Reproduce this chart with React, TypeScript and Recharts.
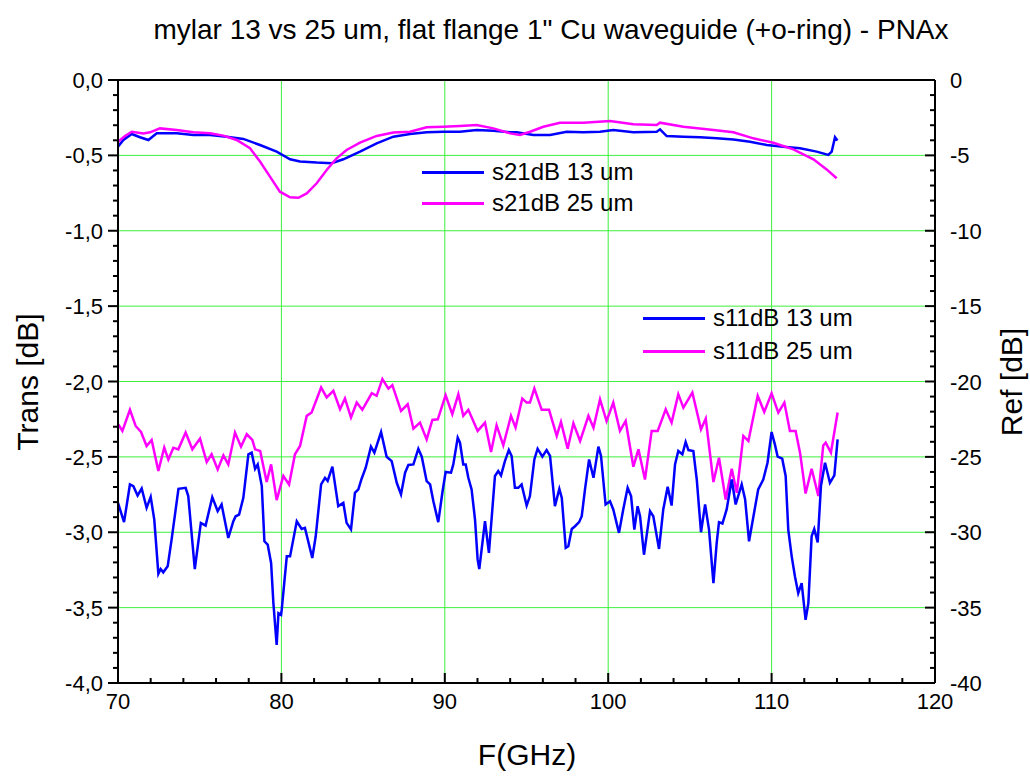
import React from "react";
import { LineChart, Line, XAxis, YAxis, ReferenceLine } from "recharts";

// s21 (transmission, left axis) and s11 (reflection, right axis): [GHz, dB]
const s21_13: [number, number][] = [
  [70.0, -0.442], [70.33, -0.398], [70.84, -0.358], [71.35, -0.38], [71.86, -0.398], [72.37, -0.354],
  [73.59, -0.354], [74.61, -0.365], [75.63, -0.365], [76.65, -0.376], [77.67, -0.391], [78.69, -0.431],
  [79.71, -0.475], [80.53, -0.526], [81.14, -0.541], [82.16, -0.548], [83.08, -0.552], [83.79, -0.526],
  [84.81, -0.475], [85.83, -0.42], [86.85, -0.376], [87.87, -0.358], [88.89, -0.347], [89.91, -0.343],
  [90.93, -0.343], [91.95, -0.332], [92.97, -0.336], [93.99, -0.347], [94.4, -0.347], [95.42, -0.365],
  [96.44, -0.365], [97.46, -0.343], [98.48, -0.347], [99.5, -0.343], [100.31, -0.332], [101.54, -0.347],
  [102.97, -0.343], [103.17, -0.327], [103.58, -0.372], [104.6, -0.376], [105.62, -0.38], [106.64, -0.387],
  [107.66, -0.394], [108.68, -0.409], [109.7, -0.431], [110.72, -0.442], [111.74, -0.453], [112.76, -0.475],
  [113.47, -0.497], [113.68, -0.475], [113.88, -0.38], [114.03, -0.402],
];

const s21_25: [number, number][] = [
  [70.0, -0.409], [70.43, -0.371], [70.84, -0.343], [71.55, -0.354], [71.96, -0.347], [72.57, -0.321],
  [73.59, -0.332], [74.61, -0.347], [75.63, -0.354], [76.45, -0.369], [77.26, -0.398], [78.08, -0.453],
  [78.69, -0.541], [79.3, -0.641], [79.91, -0.741], [80.53, -0.778], [81.04, -0.781], [81.55, -0.752],
  [82.16, -0.685], [82.77, -0.597], [83.38, -0.52], [83.99, -0.464], [84.81, -0.416], [85.83, -0.371],
  [86.85, -0.349], [87.87, -0.343], [88.89, -0.314], [89.91, -0.31], [90.93, -0.305], [91.95, -0.299],
  [92.97, -0.321], [93.99, -0.354], [94.6, -0.365], [95.22, -0.343], [96.03, -0.31], [97.05, -0.283],
  [98.48, -0.283], [100.11, -0.272], [101.54, -0.294], [102.97, -0.299], [103.17, -0.283], [104.6, -0.31],
  [106.03, -0.327], [107.66, -0.347], [108.88, -0.387], [110.11, -0.416], [111.33, -0.46], [112.56, -0.526],
  [113.37, -0.593], [113.98, -0.652],
];

const s11_13: [number, number][] = [
  [70.0, -28.05], [70.37, -29.33], [70.73, -26.83], [70.94, -26.94], [71.2, -27.56], [71.45, -27.1],
  [71.75, -28.38], [72.0, -27.65], [72.22, -29.16], [72.47, -32.75], [72.61, -32.44], [72.77, -32.66],
  [73.04, -32.26], [73.28, -30.49], [73.7, -27.12], [74.14, -27.05], [74.3, -27.6], [74.7, -32.44],
  [75.07, -29.38], [75.36, -29.56], [75.77, -27.67], [76.1, -28.6], [76.34, -28.16], [76.75, -30.38],
  [77.06, -29.27], [77.2, -28.94], [77.41, -28.83], [77.67, -27.72], [77.98, -24.83], [78.18, -24.72],
  [78.39, -25.79], [78.55, -25.5], [78.8, -26.94], [78.96, -30.6], [79.16, -30.82], [79.37, -32.04],
  [79.51, -34.7], [79.71, -37.47], [79.82, -35.37], [79.98, -35.48], [80.02, -35.14], [80.33, -31.6],
  [80.53, -31.6], [80.94, -29.27], [81.24, -29.78], [81.44, -29.71], [81.89, -31.71], [82.1, -30.27],
  [82.43, -26.83], [82.67, -26.39], [82.83, -26.6], [83.12, -25.65], [83.48, -28.27], [83.79, -28.05],
  [83.99, -29.38], [84.26, -29.82], [84.5, -27.38], [84.71, -27.16], [84.91, -26.45], [85.16, -25.72],
  [85.48, -24.32], [85.69, -24.72], [86.1, -23.35], [86.44, -24.99], [86.75, -25.28], [87.06, -26.72],
  [87.32, -27.49], [87.57, -26.05], [87.77, -25.54], [88.08, -25.5], [88.38, -24.46], [88.59, -24.99],
  [88.89, -26.61], [89.1, -26.83], [89.3, -27.94], [89.6, -29.33], [89.85, -27.38], [90.05, -26.0],
  [90.38, -26.05], [90.52, -25.5], [90.79, -23.73], [90.93, -24.06], [91.13, -25.5], [91.28, -25.5],
  [91.44, -26.39], [91.64, -27.16], [91.85, -29.16], [92.01, -31.82], [92.11, -32.44], [92.46, -29.27],
  [92.7, -31.37], [93.07, -26.27], [93.27, -25.94], [93.44, -26.23], [93.68, -25.28], [93.92, -24.55],
  [94.09, -24.94], [94.29, -27.05], [94.5, -27.05], [94.7, -26.83], [95.01, -28.23], [95.21, -27.6],
  [95.48, -25.17], [95.68, -24.46], [95.97, -24.99], [96.23, -24.55], [96.44, -24.94], [96.74, -28.27],
  [97.01, -27.12], [97.16, -27.72], [97.4, -31.04], [97.56, -30.93], [97.77, -29.78], [97.97, -29.6],
  [98.22, -29.33], [98.38, -28.94], [98.58, -27.16], [98.83, -25.17], [99.1, -26.39], [99.4, -24.32],
  [99.56, -24.94], [99.84, -28.16], [100.11, -27.94], [100.31, -28.49], [100.66, -30.04], [100.92, -28.49],
  [101.19, -27.05], [101.4, -27.6], [101.6, -29.82], [101.8, -28.27], [101.95, -28.94], [102.19, -31.49],
  [102.56, -28.6], [102.76, -28.94], [103.11, -31.11], [103.37, -28.49], [103.64, -26.98], [103.88, -28.23],
  [104.09, -25.5], [104.29, -24.61], [104.54, -24.83], [104.74, -24.01], [104.91, -24.55], [105.21, -24.61],
  [105.42, -26.5], [105.68, -30.0], [105.93, -28.16], [106.17, -29.82], [106.44, -33.37], [106.64, -30.71],
  [106.78, -29.33], [106.99, -29.42], [107.25, -28.49], [107.56, -26.5], [107.8, -28.16], [108.17, -26.83],
  [108.38, -27.83], [108.62, -30.6], [108.89, -28.94], [109.18, -27.16], [109.49, -26.5], [109.75, -25.39],
  [110.0, -23.35], [110.2, -24.17], [110.37, -24.99], [110.65, -25.12], [110.86, -26.27], [111.02, -29.82],
  [111.23, -31.6], [111.43, -32.93], [111.63, -34.04], [111.84, -33.37], [112.08, -35.81], [112.25, -34.7],
  [112.45, -30.27], [112.61, -29.78], [112.82, -30.67], [113.02, -26.94], [113.27, -25.39], [113.57, -26.72],
  [113.84, -26.23], [114.04, -23.84],
];

const s11_25: [number, number][] = [
  [70.02, -22.84], [70.27, -23.28], [70.73, -21.88], [71.08, -22.95], [71.41, -23.35], [71.75, -24.28],
  [72.06, -23.88], [72.47, -25.94], [72.83, -24.39], [73.08, -25.17], [73.39, -24.39], [73.69, -24.5],
  [74.14, -23.39], [74.55, -24.5], [75.02, -23.79], [75.43, -25.34], [75.73, -24.83], [76.1, -25.83],
  [76.45, -24.9], [76.75, -25.5], [77.16, -23.39], [77.53, -24.32], [77.88, -23.5], [78.22, -23.88],
  [78.39, -24.5], [78.7, -24.61], [79.1, -26.67], [79.37, -25.5], [79.71, -27.87], [80.12, -26.27],
  [80.47, -26.83], [80.83, -24.83], [81.14, -24.28], [81.55, -22.28], [81.85, -22.06], [82.43, -20.4],
  [82.77, -21.06], [83.18, -20.62], [83.59, -21.84], [83.89, -21.13], [84.26, -22.39], [84.61, -21.4],
  [84.95, -21.88], [85.53, -20.78], [85.83, -20.95], [86.18, -19.84], [86.55, -20.47], [86.79, -20.24],
  [87.32, -21.95], [87.73, -21.51], [88.08, -23.13], [88.48, -22.73], [88.89, -23.84], [89.24, -22.55],
  [89.57, -22.51], [90.05, -20.91], [90.46, -22.17], [90.83, -20.84], [91.13, -22.28], [91.44, -21.88],
  [92.01, -23.28], [92.46, -22.73], [92.83, -24.68], [93.17, -22.9], [93.58, -24.24], [94.05, -22.28],
  [94.33, -23.06], [94.74, -21.13], [95.01, -21.4], [95.21, -21.4], [95.48, -20.47], [95.93, -21.88],
  [96.38, -21.88], [96.85, -23.61], [97.11, -22.68], [97.52, -24.46], [97.87, -22.77], [98.28, -23.95],
  [98.79, -22.28], [99.1, -23.06], [99.5, -21.18], [99.9, -22.62], [100.31, -21.4], [100.72, -23.28],
  [101.07, -22.62], [101.54, -25.65], [101.85, -24.5], [102.25, -26.5], [102.66, -23.28], [103.03, -23.28],
  [103.52, -21.84], [103.88, -22.73], [104.29, -20.84], [104.6, -21.73], [105.15, -20.73], [105.68, -23.17],
  [105.97, -22.46], [106.44, -26.67], [106.78, -25.06], [107.19, -27.83], [107.56, -25.79], [107.87, -27.38],
  [108.27, -23.61], [108.58, -23.95], [109.15, -20.95], [109.55, -22.02], [110.0, -20.78], [110.41, -22.06],
  [110.78, -21.4], [111.12, -23.28], [111.47, -23.28], [111.74, -24.72], [112.08, -27.43], [112.45, -25.79],
  [112.86, -27.6], [113.16, -24.24], [113.31, -24.06], [113.63, -24.72], [114.04, -22.06],
];

// axis ticks
const xMajor = [70, 80, 90, 100, 110, 120];
const xGrid = [80, 90, 100, 110];
const leftMajor = [-4, -3.5, -3, -2.5, -2, -1.5, -1, -0.5, 0];
const leftGrid = [-3.5, -3, -2.5, -2, -1.5, -1, -0.5];
const rightMajor = [-40, -35, -30, -25, -20, -15, -10, -5, 0];

const BLUE = "#0000ff";
const MAGENTA = "#ff00ff";
const GRID = "#3cf03c";
const FONT = '"Liberation Sans", Arial, Helvetica, sans-serif';

function steps(a: number, b: number, s: number) {
  const out: number[] = [];
  for (let i = 0; a + i * s <= b + 1e-9; i++) out.push(Math.round((a + i * s) * 100) / 100);
  return out;
}
const xTicks = steps(70, 120, 2);
const leftTicks = steps(-4, 0, 0.1);
const rightTicks = steps(-40, 0, 1);

const isMajor = (v: number, majors: number[]) => majors.some((m) => Math.abs(m - v) < 1e-6);
const toPts = (arr: [number, number][]) => arr.map(([f, v]) => ({ f, v }));

const MAJ = 10;
const MIN = 5;

const BottomTick = ({ x, y, payload }: any) => {
  const major = isMajor(payload.value, xMajor);
  return (
    <g>
      <line x1={x} x2={x} y1={y} y2={y - (major ? MAJ : MIN)} stroke="#000" strokeWidth={2} />
      {major && (
        <text x={x} y={y + 26} textAnchor="middle" fontSize={22} fontFamily={FONT} fill="#000">
          {payload.value}
        </text>
      )}
    </g>
  );
};

const TopTick = ({ x, y, payload }: any) => {
  const major = isMajor(payload.value, xMajor);
  return <line x1={x} x2={x} y1={y} y2={y - (major ? MAJ : MIN)} stroke="#000" strokeWidth={2} />;
};

const LeftTick = ({ x, y, payload }: any) => {
  const major = isMajor(payload.value, leftMajor);
  return (
    <g>
      <line x1={x} x2={x - (major ? MAJ : MIN)} y1={y} y2={y} stroke="#000" strokeWidth={2} />
      {major && (
        <text x={x - 15} y={y + 8} textAnchor="end" fontSize={22} fontFamily={FONT} fill="#000">
          {payload.value.toFixed(1).replace(".", ",")}
        </text>
      )}
    </g>
  );
};

const RightTick = ({ x, y, payload }: any) => {
  const major = isMajor(payload.value, rightMajor);
  return (
    <g>
      <line x1={x} x2={x - (major ? MAJ : MIN)} y1={y} y2={y} stroke="#000" strokeWidth={2} />
      {major && (
        <text x={x + 15} y={y + 8} textAnchor="start" fontSize={22} fontFamily={FONT} fill="#000">
          {payload.value}
        </text>
      )}
    </g>
  );
};

const legendS21 = [
  { name: "s21dB 13 um", color: BLUE },
  { name: "s21dB 25 um", color: MAGENTA },
];
const legendS11 = [
  { name: "s11dB 13 um", color: BLUE },
  { name: "s11dB 25 um", color: MAGENTA },
];

function LegendBox({ items, left, top, gap }: { items: { name: string; color: string }[]; left: number; top: number; gap: number }) {
  return (
    <div style={{ position: "absolute", left, top }}>
      {items.map((it, i) => (
        <div key={it.name} style={{ position: "absolute", top: i * gap, left: 0, display: "flex", alignItems: "center", whiteSpace: "nowrap", height: 0 }}>
          <span style={{ display: "inline-block", width: 62, height: 3, background: it.color, marginRight: 8 }} />
          <span style={{ fontFamily: FONT, fontSize: 24, color: "#000" }}>{it.name}</span>
        </div>
      ))}
    </div>
  );
}

const axisLine = { stroke: "#000", strokeWidth: 2 };

export default function App() {
  return (
    <div style={{ position: "absolute", left: 0, top: 0, width: 1030, height: 778, background: "#fff" }}>
      <LineChart width={1030} height={778} margin={{ top: 79, right: 94, bottom: 94, left: 117 }}>
        {xGrid.map((v) => (
          <ReferenceLine key={"gx" + v} x={v} xAxisId="b" yAxisId="L" stroke={GRID} strokeWidth={1} zIndex={-100} />
        ))}
        {leftGrid.map((v) => (
          <ReferenceLine key={"gy" + v} y={v} xAxisId="b" yAxisId="L" stroke={GRID} strokeWidth={1} zIndex={-100} />
        ))}
        <XAxis
          xAxisId="b" dataKey="f" type="number" domain={[70, 120]} ticks={xTicks} interval={0}
          height={1} tickSize={0} tickMargin={0} tickLine={false} axisLine={axisLine} tick={BottomTick}
        />
        <XAxis
          xAxisId="t" orientation="top" type="number" domain={[70, 120]} ticks={xTicks} interval={0}
          height={1} tickSize={0} tickMargin={0} tickLine={false} axisLine={axisLine} tick={TopTick}
        />
        <YAxis
          yAxisId="L" type="number" domain={[-4, 0]} ticks={leftTicks} interval={0}
          width={1} tickSize={0} tickMargin={0} tickLine={false} axisLine={axisLine} tick={LeftTick}
        />
        <YAxis
          yAxisId="R" orientation="right" type="number" domain={[-40, 0]} ticks={rightTicks} interval={0}
          width={1} tickSize={0} tickMargin={0} tickLine={false} axisLine={axisLine} tick={RightTick}
        />
        <Line data={toPts(s21_13)} dataKey="v" xAxisId="b" yAxisId="L" type="linear" stroke={BLUE} strokeWidth={2.5} dot={false} isAnimationActive={false} />
        <Line data={toPts(s21_25)} dataKey="v" xAxisId="b" yAxisId="L" type="linear" stroke={MAGENTA} strokeWidth={2.5} dot={false} isAnimationActive={false} />
        <Line data={toPts(s11_25)} dataKey="v" xAxisId="b" yAxisId="R" type="linear" stroke={MAGENTA} strokeWidth={2.5} dot={false} isAnimationActive={false} />
        <Line data={toPts(s11_13)} dataKey="v" xAxisId="b" yAxisId="R" type="linear" stroke={BLUE} strokeWidth={2.5} dot={false} isAnimationActive={false} />
      </LineChart>

      <div style={{ position: "absolute", left: 0, width: 1102, top: 14, textAlign: "center", fontFamily: FONT, fontSize: 28, color: "#000", whiteSpace: "nowrap" }}>
        mylar 13 vs 25 um, flat flange 1" Cu waveguide (+o-ring) - PNAx
      </div>
      <div style={{ position: "absolute", left: 427, width: 200, top: 738, textAlign: "center", fontFamily: FONT, fontSize: 30, color: "#000" }}>
        F(GHz)
      </div>
      <div style={{ position: "absolute", left: 28, top: 382, transform: "translate(-50%, -50%) rotate(-90deg)", fontFamily: FONT, fontSize: 30, color: "#000", whiteSpace: "nowrap" }}>
        Trans [dB]
      </div>
      <div style={{ position: "absolute", left: 1012, top: 382, transform: "translate(-50%, -50%) rotate(-90deg)", fontFamily: FONT, fontSize: 30, color: "#000", whiteSpace: "nowrap" }}>
        Ref [dB]
      </div>

      <LegendBox items={legendS21} left={422} top={172} gap={31} />
      <LegendBox items={legendS11} left={643} top={318} gap={33} />
    </div>
  );
}
